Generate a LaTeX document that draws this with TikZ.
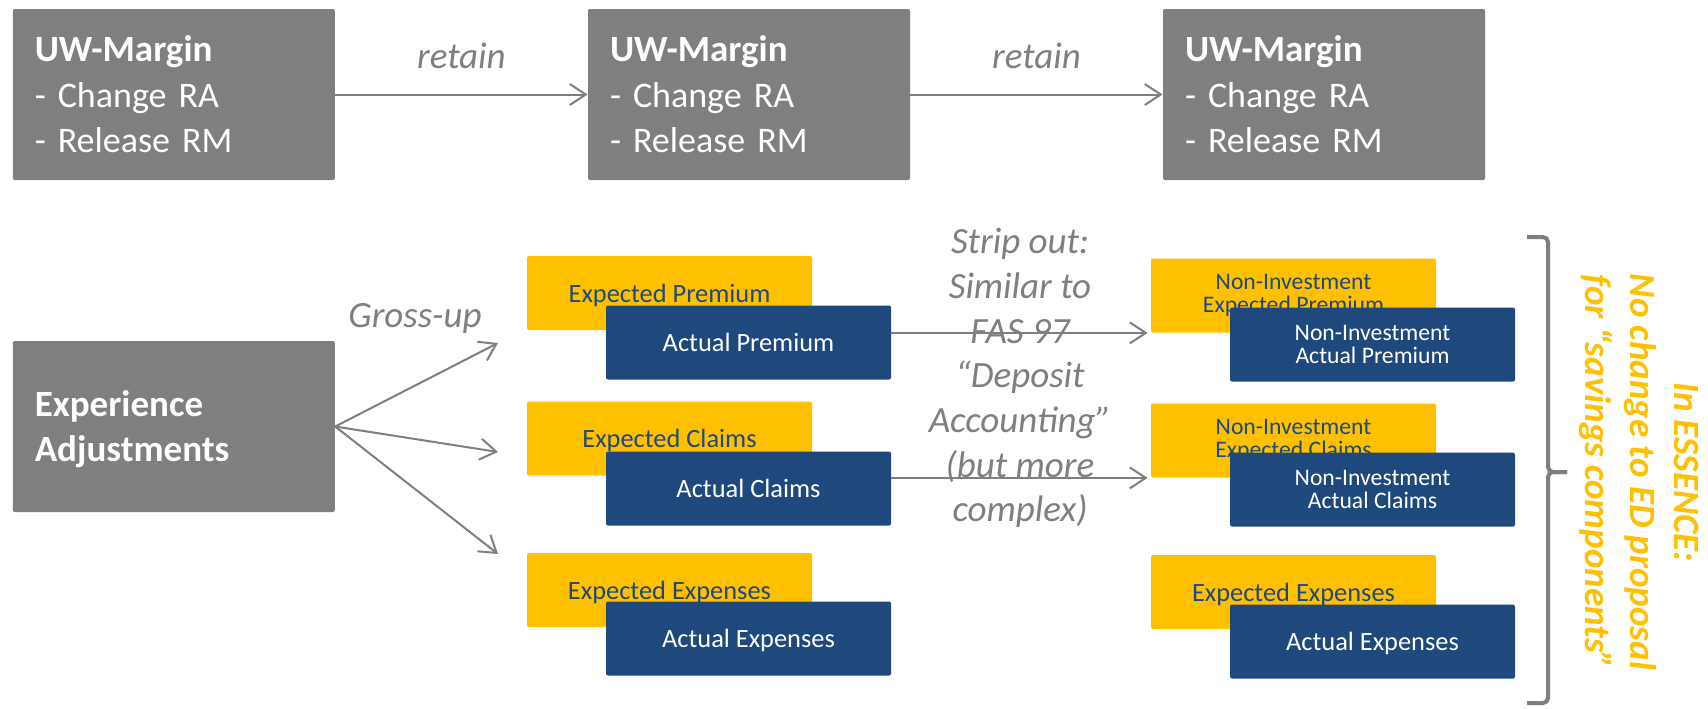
\documentclass[tikz,border=0pt]{standalone}
\usepackage{fontspec}
\setmainfont{Carlito}
\usetikzlibrary{arrows.meta}
\definecolor{boxgray}{HTML}{7F7F7F}
\definecolor{ylw}{HTML}{FFC000}
\definecolor{navy}{HTML}{1F497D}
\newcommand{\cs}{\rule[-0.269em]{0pt}{1.221em}}
\newcommand{\bigb}[1]{{\fontsize{18.5}{22.7}\selectfont\bfseries #1}}
\begin{document}
\begin{tikzpicture}[x=0.5pt,y=-0.5pt,
  graybox/.style={fill=boxgray, rounded corners=1pt, text=white, minimum width=161pt, minimum height=85.5pt,
    inner ysep=0pt, inner xsep=11pt, align=left, text width=139pt, font=\fontsize{18}{22.7}\selectfont},
  ybox/.style={fill=ylw, rounded corners=1pt, text=navy, minimum width=142.5pt, minimum height=37pt,
    inner sep=0pt, align=center, font=\fontsize{13.2}{16.2}\selectfont},
  bbox/.style={fill=navy, rounded corners=1pt, text=white, minimum width=142.5pt, minimum height=37pt,
    inner sep=0pt, align=center, font=\fontsize{13.2}{16.2}\selectfont},
  ni/.style={font=\fontsize{11.85}{11.65}\selectfont},
  lbl/.style={text=boxgray, font=\fontsize{18.5}{22.35}\selectfont\itshape, inner sep=0pt},
  arr/.style={draw=boxgray, line width=1pt, -{Straight Barb[length=8pt,width=10.5pt]}},
  bracestyle/.style={draw=boxgray, line width=2pt, rounded corners=2.5pt},
  essence/.style={rotate=-90, text=ylw, align=center, inner sep=0pt,
    font=\fontsize{18.5}{22.25}\selectfont\bfseries\itshape}
]
\fill[white] (0,0) rectangle (1708,708);
\useasboundingbox (0,0) rectangle (1708,708);

% top row
\node[graybox] (uw1) at (173.8,94.5) {\bigb{\cs UW-Margin}\\\cs- Change RA\\\cs- Release RM};
\node[graybox] (uw2) at (749,94.5) {\bigb{\cs UW-Margin}\\\cs- Change RA\\\cs- Release RM};
\node[graybox] (uw3) at (1324,94.5) {\bigb{\cs UW-Margin}\\\cs- Change RA\\\cs- Release RM};
\draw[arr] (uw1) -- node[lbl, midway, anchor=base, yshift=13.25pt] (r1) {retain} (uw2);
\draw[arr] (uw2) -- node[lbl, midway, anchor=base, yshift=13.25pt] (r2) {retain} (uw3);

% experience adjustments
\node[graybox] (exp) at (173.8,426.5) {\bigb{\cs Experience}\\\bigb{\cs Adjustments}};
\coordinate (g1) at (498,343);
\coordinate (g2) at (498,452);
\coordinate (g3) at (498,554);
\draw[arr] (exp.east) -- (g1);
\draw[arr] (exp.east) -- (g2);
\draw[arr] (exp.east) -- (g3);
\node[lbl, anchor=base] (gross) at (415,327) {Gross-up};

% middle column
\node[ybox] (ep) at (669.5,293) {\cs Expected Premium};
\node[bbox] (ap) at (748.5,342.5) {\cs Actual Premium};
\node[ybox] (ec) at (669.5,438.5) {\cs Expected Claims};
\node[bbox] (ac) at (748.5,488.5) {\cs Actual Claims};
\node[ybox] (ee) at (669.5,590) {\cs Expected Expenses};
\node[bbox] (ae) at (748.5,638.5) {\cs Actual Expenses};

% right column
\node[ybox, ni] (niep) at (1293.5,295.5) {Non-Investment\\Expected Premium};
\node[bbox, ni] (niap) at (1372.5,344.5) {Non-Investment\\Actual Premium};
\node[ybox, ni] (niec) at (1293.5,440.5) {Non-Investment\\Expected Claims};
\node[bbox, ni] (niac) at (1372.5,489.5) {Non-Investment\\Actual Claims};
\node[ybox] (ee2) at (1293.5,592) {\cs Expected Expenses};
\node[bbox] (ae2) at (1372.5,641.5) {\cs Actual Expenses};

% strip out text
\node[lbl, align=center] (strip) at (1020,378) {Strip out:\\Similar to\\FAS 97\\“Deposit\\Accounting”\\(but more\\complex)};

\draw[arr, shorten >=1.5pt] (ap.east |- niep.south) -- (niep.south west);
\draw[arr, shorten >=1.5pt] (ac.east |- niec.south) -- (niec.south west);

% brace
\draw[bracestyle] (1527,237) -| (1548,472) -- (1567,472);
\draw[bracestyle] (1567,472) -- (1548,472) |- (1527,703);

\node[essence] (ess) at (1639,472) {In ESSENCE:\\No change to ED proposal\\for “savings components”};
\end{tikzpicture}
\end{document}
